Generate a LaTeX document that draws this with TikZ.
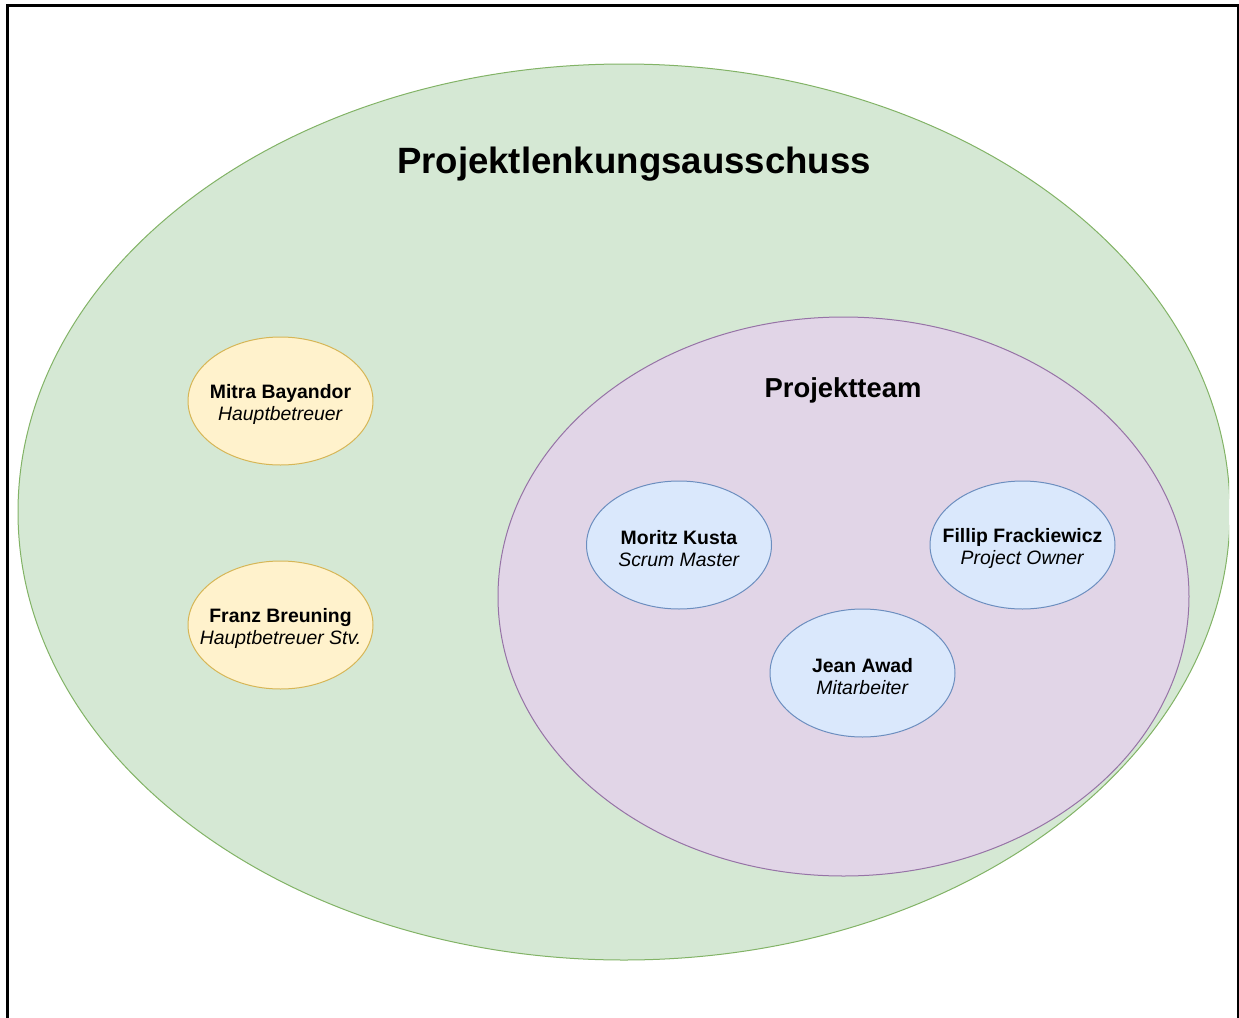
\documentclass[tikz,border=0pt]{standalone}
\usepackage{fontspec}
\setmainfont{Liberation Sans}
\usetikzlibrary{shapes.geometric}
\definecolor{board-fill}{HTML}{D5E8D4}
\definecolor{board-line}{HTML}{82B366}
\definecolor{team-fill}{HTML}{E1D5E7}
\definecolor{team-line}{HTML}{9673A6}
\definecolor{lead-fill}{HTML}{FFF2CC}
\definecolor{lead-line}{HTML}{D6B656}
\definecolor{member-fill}{HTML}{DAE8FC}
\definecolor{member-line}{HTML}{6C8EBF}
\tikzset{
    person/.style={ellipse, draw, line width=0.5pt, minimum width=92.5pt, minimum height=64pt,
        inner sep=0pt, align=center, font=\fontsize{9.7}{11}\selectfont},
    lead/.style={person, fill=lead-fill, draw=lead-line},
    member/.style={person, fill=member-fill, draw=member-line},
    heading/.style={font=\bfseries}
}
\newcommand{\personrole}[2]{\makebox[0pt]{\rule{0pt}{10.7pt}\textbf{#1}}\\\makebox[0pt]{\textit{#2}}}

\begin{document}
\begin{tikzpicture}[x=0.5pt, y=-0.5pt]

    \useasboundingbox (0, 0) rectangle (1239, 1018);

    % Frame
    \draw[black, line width=1.5pt] (7, 1018) -- (7, 5) -- (1238, 5) -- (1238, 1018);

    % Steering committee
    \begin{scope}
        \clip (0, 0) rectangle (1229, 1018);
        \filldraw[fill=board-fill, draw=board-line, line width=0.5pt] (624, 512) ellipse [x radius=303pt, y radius=224pt];
    \end{scope}
    \node[heading, font=\fontsize{18.3}{22}\selectfont\bfseries] (board) at (634, 164) {Projektlenkungsausschuss};

    % Project team
    \filldraw[fill=team-fill, draw=team-line, line width=0.5pt] (843.5, 596.5) ellipse [x radius=172.75pt, y radius=139.75pt];
    \node[heading, font=\fontsize{13.7}{16}\selectfont\bfseries] (team) at (843, 390) {Projektteam};

    % Supervisors
    \node[lead] (mitra) at (280.5, 401) {\personrole{Mitra Bayandor}{Hauptbetreuer}};
    \node[lead] (franz) at (280.5, 625) {\personrole{Franz Breuning}{Hauptbetreuer Stv.}};

    % Team members
    \node[member] (moritz) at (679, 545) {\personrole{Moritz Kusta}{Scrum Master}};
    \node[member] (fillip) at (1022.5, 545) {\personrole{Fillip Frackiewicz}{Project Owner}};
    \node[member] (jean) at (862.5, 673) {\personrole{Jean Awad}{Mitarbeiter}};

\end{tikzpicture}
\end{document}
